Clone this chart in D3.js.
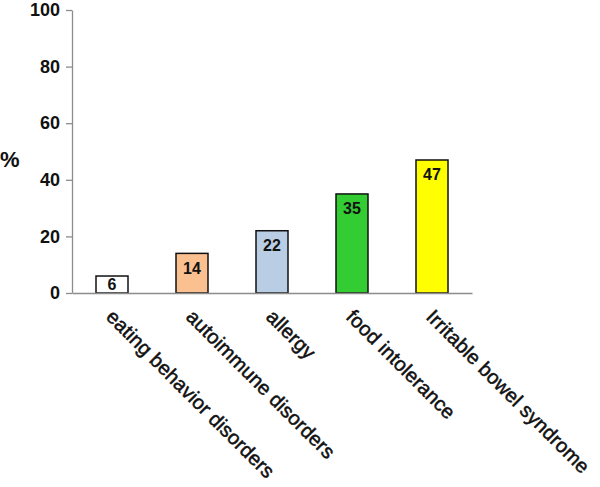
<!DOCTYPE html>
<html><head><meta charset="utf-8">
<script src="https://cdn.jsdelivr.net/npm/d3@7"></script>
<style>body{margin:0;background:#fff}svg{display:block}text{font-family:"Liberation Sans",Arial,sans-serif}</style>
</head><body>
<svg id="c" width="600" height="487"></svg>
<script>
const categories = ["eating behavior disorders","autoimmune disorders","allergy","food intolerance","Irritable bowel syndrome"];
const values = [6,14,22,35,47];
const colors = ["#FFFFFF","#FAC090","#B9CDE5","#33CC33","#FFFF00"];
const yTicks = [0,20,40,60,80,100];
const yLabel = "%";

const svg = d3.select("#c");
const x = d3.scaleBand().domain(categories).range([72,472]).paddingInner(0.6).paddingOuter(0.3);
const y = d3.scaleLinear().domain([0,100]).range([293,10]);

// y axis
const ya = svg.append("g").attr("transform","translate(72,0)")
  .call(d3.axisLeft(y).tickValues(yTicks).tickSize(6).tickPadding(6).tickSizeOuter(0));
ya.select(".domain").attr("stroke","#8c8c8c").attr("stroke-width",1.3);
ya.selectAll(".tick line").attr("stroke","#8c8c8c").attr("stroke-width",1.3);
ya.selectAll(".tick text").attr("font-size",18).attr("font-weight","bold").attr("fill","#111")
  .attr("font-family","Liberation Sans, Arial, sans-serif");

// bars
svg.append("g").selectAll("rect").data(values).join("rect")
  .attr("x",(d,i)=>x(categories[i]))
  .attr("width",x.bandwidth())
  .attr("y",d=>y(d))
  .attr("height",d=>y(0)-y(d))
  .attr("fill",(d,i)=>colors[i])
  .attr("stroke","#111").attr("stroke-width",1.5);

// x axis line
const xa = svg.append("g").attr("transform","translate(0,293)")
  .call(d3.axisBottom(x).tickSize(0).tickFormat(""));
xa.select(".domain").attr("stroke","#8c8c8c").attr("stroke-width",1.3);

// value labels
svg.append("g").selectAll("text").data(values).join("text")
  .attr("x",(d,i)=>x(categories[i])+x.bandwidth()/2)
  .attr("y",d=>Math.min(y(d)+20.5, y(0)-3.5))
  .attr("text-anchor","middle")
  .attr("font-size",16).attr("font-weight","bold").attr("fill","#111")
  .text(d=>d);

// category labels
svg.append("g").selectAll("text").data(categories).join("text")
  .attr("transform",(d)=>`translate(${x(d)+x.bandwidth()/2+3},${308}) rotate(45)`)
  .attr("dy","0.71em")
  .attr("text-anchor","start")
  .attr("font-size",20).attr("letter-spacing",0.15).attr("fill","#111")
  .attr("stroke","#111").attr("stroke-width",0.5)
  .text(d=>d);

// y label
svg.append("text").attr("x",0).attr("y",167).attr("font-size",22).attr("font-weight","bold")
  .attr("fill","#111").text(yLabel);
</script>
</body></html>
